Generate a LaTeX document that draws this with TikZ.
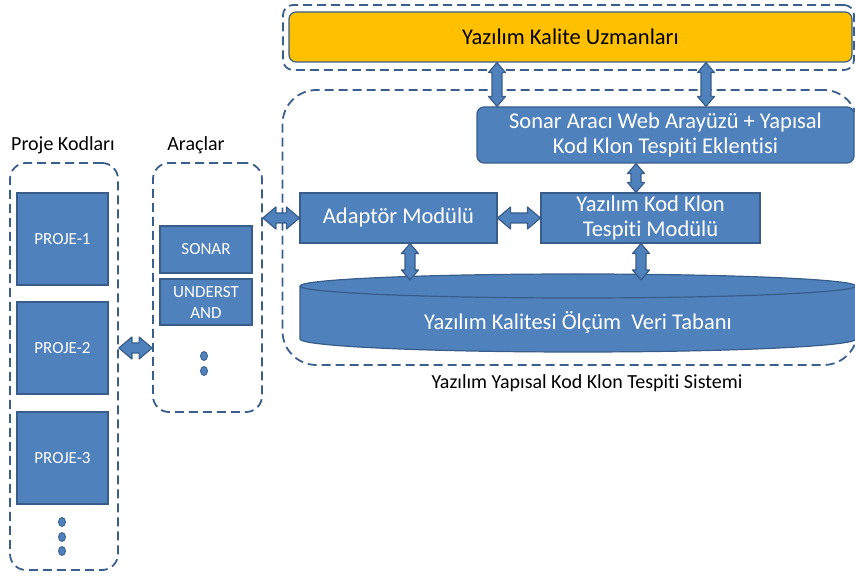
\documentclass[tikz,border=0pt]{standalone}
\usepackage{fontspec}
\setmainfont{Carlito}[Ligatures=NoCommon]
\usepackage{tikz}
\usetikzlibrary{positioning, calc}

\definecolor{boxblue}{HTML}{4F81BD}
\definecolor{boxedge}{HTML}{385D8A}
\definecolor{dashblue}{HTML}{3B5F8D}
\definecolor{kaliteorange}{HTML}{FFC000}

\newcommand{\bigtxt}{\fontsize{22.5}{25.5}\selectfont}
\newcommand{\midtxt}{\fontsize{20}{24}\selectfont}
\newcommand{\smalltxt}{\fontsize{17}{21}\selectfont}

\begin{document}
\begin{tikzpicture}[
    x=1pt, y=-1pt,
    every node/.style={inner sep=0pt},
    bluebox/.style={draw=boxedge, fill=boxblue, line width=1.2pt, text=white, align=center},
    roundbox/.style={bluebox, rounded corners=7pt},
    dashframe/.style={draw=dashblue, line width=1.8pt, dash pattern=on 9pt off 5pt},
    arrowfill/.style={fill=boxblue, draw=boxedge, line width=1.2pt, line join=round},
    % fat double arrow, left to right
    hfat/.style={arrowfill, to path={let \p1=(\tikztostart), \p2=(\tikztotarget) in
        (\x1,\y1) -- (\x1+13pt,\y1+11pt) -- (\x1+13pt,\y1+5pt) -- (\x2-13pt,\y1+5pt)
        -- (\x2-13pt,\y1+11pt) -- (\x2,\y1) -- (\x2-13pt,\y1-11pt) -- (\x2-13pt,\y1-5pt)
        -- (\x1+13pt,\y1-5pt) -- (\x1+13pt,\y1-11pt) -- cycle}},
    % fat double arrow, top to bottom
    vfat/.style={arrowfill, to path={let \p1=(\tikztostart), \p2=(\tikztotarget) in
        (\x1,\y1) -- (\x1+8.5pt,\y1-10pt) -- (\x1+5pt,\y1-10pt) -- (\x1+5pt,\y2+10pt)
        -- (\x1+8.5pt,\y2+10pt) -- (\x1,\y2) -- (\x1-8.5pt,\y2+10pt) -- (\x1-5pt,\y2+10pt)
        -- (\x1-5pt,\y1-10pt) -- (\x1-8.5pt,\y1-10pt) -- cycle}}
]
    \useasboundingbox (0,0) rectangle (855,577);

    % dashed frames
    \node[dashframe, rounded corners=10pt, minimum width=571pt, minimum height=65pt] (topframe) at (568.5,37.5) {};
    \node[dashframe, rounded corners=34pt, minimum width=575pt, minimum height=275pt] (sysframe) at (570,227.5) {};
    \node[dashframe, rounded corners=16pt, minimum width=108pt, minimum height=407pt] (projeframe) at (64,366.5) {};
    \node[dashframe, rounded corners=16pt, minimum width=109pt, minimum height=249pt] (aracframe) at (207.5,287.5) {};

    % labels
    \node[font=\midtxt] (projelbl) at (63,145) {Proje Kodları};
    \node[font=\midtxt] (araclbl) at (196,145) {Araçlar};
    \node[font=\midtxt] (syslbl) at (587,383) {Yazılım Yapısal Kod Klon Tespiti Sistemi};

    % main boxes
    \node[roundbox, fill=kaliteorange, text=black, font=\bigtxt, minimum width=563pt, minimum height=50pt] (kalite) at (570.5,37) {Yazılım Kalite Uzmanları};
    \node[roundbox, font=\bigtxt, minimum width=377pt, minimum height=56pt] (sonar) at (665.5,135) {Sonar Aracı Web Arayüzü + Yapısal\\Kod Klon Tespiti Eklentisi};
    \node[bluebox, font=\bigtxt, minimum width=197pt, minimum height=50pt] (adapt) at (398.5,218) {Adaptör Modülü};
    \node[bluebox, font=\bigtxt, minimum width=219pt, minimum height=50pt] (klon) at (650.5,218) {Yazılım Kod Klon\\Tespiti Modülü};

    % data base cylinder
    \path[arrowfill] (300,286) -- (300,339) arc[start angle=180, end angle=360, x radius=278pt, y radius=13pt]
        -- (856,286) arc[start angle=0, end angle=180, x radius=278pt, y radius=12pt] -- cycle;
    \draw[boxedge, line width=1.2pt] (300,286) arc[start angle=180, end angle=360, x radius=278pt, y radius=12pt];
    \node[text=white, font=\bigtxt] (db) at (578,322) {Yazılım Kalitesi Ölçüm\ \ Veri Tabanı};
    \coordinate (dbtop) at (578,280);

    % projects
    \node[bluebox, font=\smalltxt, minimum width=91pt, minimum height=92pt] (proje1) at (62.5,239) {PROJE-1};
    \node[bluebox, font=\smalltxt, minimum width=91pt, minimum height=92pt] (proje2) at (62.5,348) {PROJE-2};
    \node[bluebox, font=\smalltxt, minimum width=91pt, minimum height=92pt] (proje3) at (62.5,458) {PROJE-3};

    % tools
    \node[bluebox, font=\smalltxt, minimum width=92pt, minimum height=47pt] (sonartool) at (206,249.5) {SONAR};
    \node[bluebox, font=\smalltxt, align=center, minimum width=92pt, minimum height=46pt] (undtool) at (206,302) {UNDERST\\AND};

    % dots
    \foreach \yy in {522,537,551}
        \filldraw[fill=boxblue, draw=boxedge, line width=0.8pt] (62,\yy) ellipse[x radius=3.5pt, y radius=4.5pt];
    \foreach \yy in {356,371}
        \filldraw[fill=boxblue, draw=boxedge, line width=0.8pt] (204,\yy) ellipse[x radius=3.5pt, y radius=4.5pt];

    % arrows
    \draw[vfat] ([xshift=-73.5pt]kalite.south) to (sonar.north);
    \draw[vfat] ([xshift=135.5pt]kalite.south) to (sonar.north);
    \draw[vfat] ([xshift=-29.5pt]sonar.south) to (klon.north);
    \draw[hfat] (adapt.east) to (klon.west);
    \draw[vfat] ([xshift=11.5pt]adapt.south) to (dbtop);
    \draw[vfat] ([xshift=-9.5pt]klon.south) to (dbtop);
    \draw[hfat] (projeframe.east |- proje2) to (aracframe.west);
    \draw[hfat] (aracframe.east |- adapt) to (adapt.west);
\end{tikzpicture}
\end{document}
